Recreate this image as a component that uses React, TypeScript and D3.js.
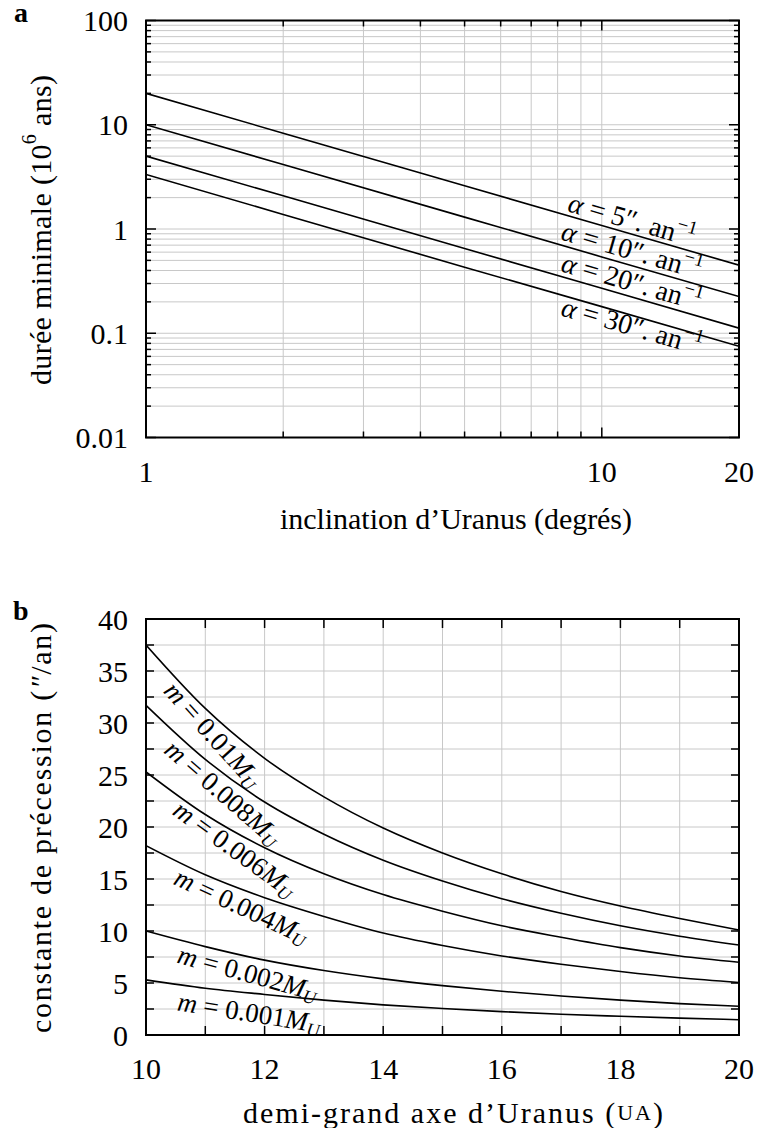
import React from 'react';
import * as d3 from 'd3';

// ---------- Panel a data ----------
const inclinationDeg = [1, 2, 5, 10, 20];
const dureeAlpha5 = [20, 8.3, 2.6, 1.08, 0.45];
const dureeAlpha10 = [10, 4.15, 1.3, 0.54, 0.225];
const dureeAlpha20 = [5, 2.08, 0.65, 0.27, 0.112];
const dureeAlpha30 = [3.33, 1.38, 0.43, 0.18, 0.075];
const alphaValues = ['5', '10', '20', '30'];
const topYTicks = [0.01, 0.1, 1, 10, 100];
const topYTickLabels = ['0.01', '0.1', '1', '10', '100'];
const topXTicks = [1, 10, 20];
const topXTickLabels = ['1', '10', '20'];

// ---------- Panel b data ----------
const demiGrandAxe = [10, 11, 12, 13, 14, 15, 16, 17, 18, 19, 20];
const precM0010 = [37.5, 31.4, 26.6, 22.9, 19.9, 17.5, 15.5, 13.8, 12.4, 11.2, 10.1];
const precM0008 = [31.7, 26.5, 22.4, 19.3, 16.8, 14.8, 13.1, 11.7, 10.5, 9.5, 8.65];
const precM0006 = [25.3, 21.2, 18.0, 15.5, 13.5, 11.9, 10.5, 9.4, 8.4, 7.6, 7.0];
const precM0004 = [18.2, 15.4, 13.2, 11.4, 9.8, 8.6, 7.6, 6.8, 6.1, 5.5, 5.05];
const precM0002 = [10.0, 8.5, 7.2, 6.2, 5.4, 4.75, 4.2, 3.75, 3.35, 3.02, 2.77];
const precM0001 = [5.3, 4.5, 3.9, 3.35, 2.9, 2.55, 2.25, 2.0, 1.8, 1.62, 1.47];
const massValues = ['0.01', '0.008', '0.006', '0.004', '0.002', '0.001'];
const bottomXTicks = [10, 12, 14, 16, 18, 20];
const bottomYTicks = [0, 5, 10, 15, 20, 25, 30, 35, 40];

// ---------- Layout ----------
const W = 757, H = 1128;
const L = 146, R = 739;
const aTop = 20.5, aBot = 437.5;
const bTop = 619, bBot = 1035;
const FONT = '"Liberation Serif", "DejaVu Serif", serif';
const FS = 30;
const LFS = 27;
const GRID = '#c8c8c8';

// label anchors (data coordinates) and rotation
const alphaLabelPos = [
  { x: 11.65, y: 1.23 },
  { x: 11.65, y: 0.63 },
  { x: 11.65, y: 0.313 },
  { x: 11.65, y: 0.118 },
];
const massLabelPos = [
  { x: 11.13, y: 28.9, a: 48 },
  { x: 11.3, y: 23.3, a: 41 },
  { x: 11.5, y: 17.9, a: 36 },
  { x: 11.61, y: 12.4, a: 25 },
  { x: 11.72, y: 5.96, a: 15.5 },
  { x: 11.74, y: 2.16, a: 9 },
];

export default function App() {
  const xa = d3.scaleLog().domain([1, 20]).range([L, R]);
  const ya = d3.scaleLog().domain([0.01, 100]).range([aBot, aTop]);
  const xb = d3.scaleLinear().domain([10, 20]).range([L, R]);
  const yb = d3.scaleLinear().domain([0, 40]).range([bBot, bTop]);

  const seriesA = [dureeAlpha5, dureeAlpha10, dureeAlpha20, dureeAlpha30];
  const seriesB = [precM0010, precM0008, precM0006, precM0004, precM0002, precM0001];

  const lineA = d3.line<number>().x((_, i) => xa(inclinationDeg[i])).y((d) => ya(d));
  const lineB = d3.line<number>().x((_, i) => xb(demiGrandAxe[i])).y((d) => yb(d)).curve(d3.curveMonotoneX);

  const aYMinor: number[] = [];
  for (let e = -2; e < 2; e++) for (let k = 1; k <= 9; k++) aYMinor.push(k * Math.pow(10, e));
  aYMinor.push(100);
  const aXGrid = [2, 3, 4, 5, 6, 7, 8, 9, 10];
  const bXGrid = d3.range(11, 20);
  const bYGrid = d3.range(2.5, 40, 2.5);
  const bXTicksAll = d3.range(11, 20);

  const angleA = 16.2;

  return (
    <svg width={W} height={H} style={{ position: 'absolute', left: 0, top: 0, background: '#fff' }} fontFamily={FONT}>
      <rect x={0} y={0} width={W} height={H} fill="#fff" />
      <defs>
        <clipPath id="clipA"><rect x={L} y={aTop} width={R - L} height={aBot - aTop} /></clipPath>
        <clipPath id="clipB"><rect x={L} y={bTop} width={R - L} height={bBot - bTop} /></clipPath>
      </defs>

      {/* ---------- Panel a ---------- */}
      <g>
        {aYMinor.map((v, i) => (
          <line key={'ay' + i} x1={L} x2={R} y1={ya(v)} y2={ya(v)} stroke={GRID} strokeWidth={1} />
        ))}
        {aXGrid.map((v, i) => (
          <line key={'ax' + i} x1={xa(v)} x2={xa(v)} y1={aTop} y2={aBot} stroke={GRID} strokeWidth={1} />
        ))}
        <g clipPath="url(#clipA)">
          {seriesA.map((s, i) => (
            <path key={'la' + i} d={lineA(s) || ''} fill="none" stroke="#000" strokeWidth={1.6} />
          ))}
        </g>
        {aYMinor.map((v, i) => {
          const major = topYTicks.includes(v);
          const len = major ? 10 : 5;
          return (
            <g key={'aty' + i}>
              <line x1={L} x2={L + len} y1={ya(v)} y2={ya(v)} stroke="#000" strokeWidth={1.5} />
              <line x1={R} x2={R - len} y1={ya(v)} y2={ya(v)} stroke="#000" strokeWidth={1.5} />
            </g>
          );
        })}
        {aXGrid.map((v, i) => {
          const len = v === 10 ? 10 : 6;
          return (
            <g key={'atx' + i}>
              <line x1={xa(v)} x2={xa(v)} y1={aBot} y2={aBot - len} stroke="#000" strokeWidth={1.5} />
              <line x1={xa(v)} x2={xa(v)} y1={aTop} y2={aTop + len} stroke="#000" strokeWidth={1.5} />
            </g>
          );
        })}
        <rect x={L} y={aTop} width={R - L} height={aBot - aTop} fill="none" stroke="#000" strokeWidth={2} />
        {topYTicks.map((v, i) => (
          <text key={'atl' + i} x={128} y={ya(v)} textAnchor="end" dominantBaseline="central" fontSize={FS}>
            {topYTickLabels[i]}
          </text>
        ))}
        {topXTicks.map((v, i) => (
          <text key={'axl' + i} x={xa(v)} y={471} textAnchor="middle" dominantBaseline="central" fontSize={FS}>
            {topXTickLabels[i]}
          </text>
        ))}
        <text x={456} y={518} textAnchor="middle" dominantBaseline="central" fontSize={FS} textLength={352} lengthAdjust="spacing">
          inclination d’Uranus (degrés)
        </text>
        <text transform={`translate(40, 230) rotate(-90)`} textAnchor="middle" dominantBaseline="central" fontSize={FS} textLength={310} lengthAdjust="spacing">
          durée minimale (10<tspan dy={-11} fontSize={20}>6</tspan><tspan dy={11}> ans)</tspan>
        </text>
        {alphaLabelPos.map((p, i) => (
          <text key={'alab' + i} transform={`translate(${xa(p.x)}, ${ya(p.y)}) rotate(${angleA})`} textAnchor="middle" dominantBaseline="central" fontSize={LFS + 1}>
            <tspan fontStyle="italic">α</tspan> = {alphaValues[i]}″. an<tspan dy={-10} fontSize={19}>−1</tspan>
          </text>
        ))}
        <text x={14} y={22} fontSize={28} fontWeight="bold">a</text>
      </g>

      {/* ---------- Panel b ---------- */}
      <g>
        {bYGrid.map((v, i) => (
          <line key={'by' + i} x1={L} x2={R} y1={yb(v)} y2={yb(v)} stroke={GRID} strokeWidth={1} />
        ))}
        {bXGrid.map((v, i) => (
          <line key={'bx' + i} x1={xb(v)} x2={xb(v)} y1={bTop} y2={bBot} stroke={GRID} strokeWidth={1} />
        ))}
        <g clipPath="url(#clipB)">
          {seriesB.map((s, i) => (
            <path key={'lb' + i} d={lineB(s) || ''} fill="none" stroke="#000" strokeWidth={1.6} />
          ))}
        </g>
        {bYGrid.map((v, i) => (
          <g key={'bty' + i}>
            <line x1={L} x2={L + 8} y1={yb(v)} y2={yb(v)} stroke="#000" strokeWidth={1.5} />
            <line x1={R} x2={R - 8} y1={yb(v)} y2={yb(v)} stroke="#000" strokeWidth={1.5} />
          </g>
        ))}
        {bXTicksAll.map((v, i) => (
          <g key={'btx' + i}>
            <line x1={xb(v)} x2={xb(v)} y1={bBot} y2={bBot - 9} stroke="#000" strokeWidth={1.5} />
            <line x1={xb(v)} x2={xb(v)} y1={bTop} y2={bTop + 9} stroke="#000" strokeWidth={1.5} />
          </g>
        ))}
        <rect x={L} y={bTop} width={R - L} height={bBot - bTop} fill="none" stroke="#000" strokeWidth={2} />
        {bottomYTicks.map((v, i) => (
          <text key={'bly' + i} x={128} y={yb(v)} textAnchor="end" dominantBaseline="central" fontSize={FS}>
            {v}
          </text>
        ))}
        {bottomXTicks.map((v, i) => (
          <text key={'blx' + i} x={xb(v)} y={1068} textAnchor="middle" dominantBaseline="central" fontSize={FS}>
            {v}
          </text>
        ))}
        <text x={453} y={1112} textAnchor="middle" dominantBaseline="central" fontSize={FS} textLength={420} lengthAdjust="spacing">
          demi-grand axe d’Uranus (<tspan fontSize={22}>UA</tspan>)
        </text>
        <text transform={`translate(40, 828) rotate(-90)`} textAnchor="middle" dominantBaseline="central" fontSize={FS} textLength={410} lengthAdjust="spacing">
          constante de précession (<tspan fontStyle="italic">″</tspan>/an)
        </text>
        {massLabelPos.map((p, i) => (
          <text key={'mlab' + i} transform={`translate(${xb(p.x)}, ${yb(p.y)}) rotate(${p.a})`} textAnchor="middle" dominantBaseline="central" fontSize={LFS}>
            <tspan fontStyle="italic">m</tspan> = {massValues[i]}<tspan fontStyle="italic">M</tspan><tspan fontStyle="italic" dy={7} fontSize={18}>U</tspan>
          </text>
        ))}
        <text x={13} y={620} fontSize={28} fontWeight="bold">b</text>
      </g>
    </svg>
  );
}
